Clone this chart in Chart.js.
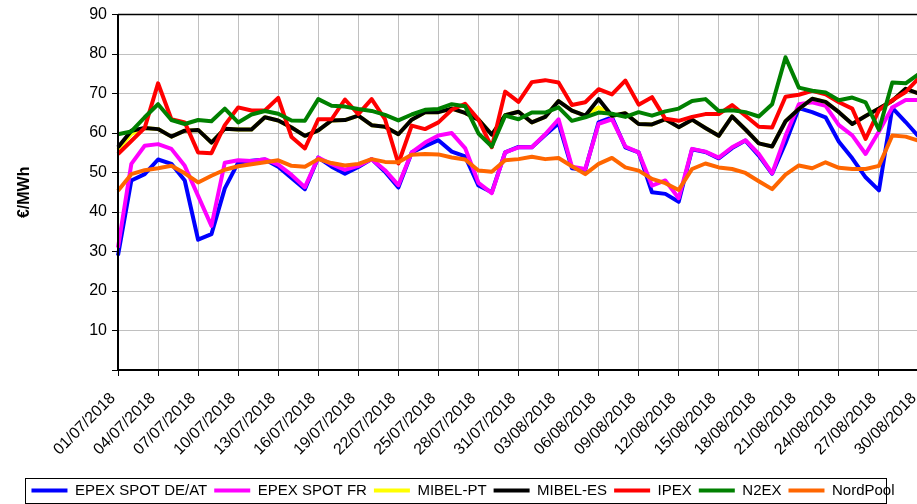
<!DOCTYPE html>
<html>
<head>
<meta charset="utf-8">
<script src="https://cdn.jsdelivr.net/npm/chart.js@4"></script>
<style>
html, body { margin: 0; padding: 0; overflow: hidden; background: #fff; }
#wrap { width: 928px; height: 508px; }
</style>
</head>
<body>
<div id="wrap"><canvas id="myChart" width="928" height="508"></canvas></div>
<script>
var dates = [
	'01/07/2018', '02/07/2018', '03/07/2018', '04/07/2018', '05/07/2018', '06/07/2018', '07/07/2018', '08/07/2018',
	'09/07/2018', '10/07/2018', '11/07/2018', '12/07/2018', '13/07/2018', '14/07/2018', '15/07/2018', '16/07/2018',
	'17/07/2018', '18/07/2018', '19/07/2018', '20/07/2018', '21/07/2018', '22/07/2018', '23/07/2018', '24/07/2018',
	'25/07/2018', '26/07/2018', '27/07/2018', '28/07/2018', '29/07/2018', '30/07/2018', '31/07/2018',
	'01/08/2018', '02/08/2018', '03/08/2018', '04/08/2018', '05/08/2018', '06/08/2018', '07/08/2018', '08/08/2018',
	'09/08/2018', '10/08/2018', '11/08/2018', '12/08/2018', '13/08/2018', '14/08/2018', '15/08/2018', '16/08/2018',
	'17/08/2018', '18/08/2018', '19/08/2018', '20/08/2018', '21/08/2018', '22/08/2018', '23/08/2018', '24/08/2018',
	'25/08/2018', '26/08/2018', '27/08/2018', '28/08/2018', '29/08/2018', '30/08/2018'
];

var epexDe = [29, 48, 49.6, 53.3, 52.2, 48, 33, 34.4, 46, 52.5,
	53, 53.3, 51.5, 48.6, 45.8, 53.8, 51.5, 49.7, 51.4, 53.4,
	50.2, 46.2, 55.1, 56.7, 58.2, 55.3, 54.1, 46.7, 45, 55.1,
	56.5, 56.4, 59.5, 62.5, 51.1, 50.7, 62.7, 64, 56.4, 55.1,
	45, 44.6, 42.6, 55.9, 55.2, 53.6, 56.2, 58.1, 54.3, 49.7,
	57.5, 66.3, 65.3, 64, 57.8, 53.6, 48.8, 45.5, 66.4, 62.8,
	59];
var epexFr = [31, 52.2, 56.8, 57.2, 56, 51.7, 44.1, 36.5, 52.5, 53.1,
	52.9, 53.4, 52, 49.4, 46.3, 53.8, 52.1, 50.7, 51.7, 53.4,
	50.6, 46.8, 55.1, 57.6, 59.4, 60, 56.2, 47.4, 44.8, 55.1,
	56.4, 56.4, 59.7, 63.5, 51.5, 50.9, 62.3, 63.5, 56.6, 55.1,
	46.7, 48, 43.5, 56, 55.3, 53.8, 56.4, 58.2, 54.7, 49.8,
	59.3, 67.3, 67.8, 66.9, 62, 59.4, 54.7, 60.4, 66.5, 68.4,
	68.4];
var mibelPt = [55.8, 59.8, 61.3, 61, 59.1, 60.6, 60.8, 57.6, 61.1, 60.9,
	60.9, 64, 63.2, 61.4, 59.3, 60.7, 63.2, 63.3, 64.4, 62,
	61.6, 59.7, 63.4, 65.3, 65.3, 66.2, 65.1, 63.4, 59.6, 64.5,
	65.4, 62.7, 64.1, 68.1, 65.7, 64.4, 66.5, 64.4, 65, 62.3,
	62.2, 63.5, 61.5, 63.4, 61.3, 59.3, 64.2, 60.9, 57.4, 56.6,
	63, 66.1, 68.7, 67.9, 65.3, 62.3, 64.3, 66.2, 68.2, 71.2,
	70];
var mibelEs = [56.4, 60.6, 61.3, 61, 59.1, 60.6, 60.8, 57.6, 61.1, 60.9,
	60.9, 64, 63.2, 61.4, 59.3, 60.7, 63.2, 63.3, 64.4, 62,
	61.6, 59.7, 63.4, 65.3, 65.3, 66.2, 65.1, 63.4, 59.6, 64.5,
	65.4, 62.7, 64.1, 68.1, 65.7, 64.4, 68.6, 64.4, 65, 62.3,
	62.2, 63.5, 61.5, 63.4, 61.3, 59.3, 64.2, 60.9, 57.4, 56.6,
	63, 66.1, 68.7, 67.9, 65.3, 62.3, 64.3, 66.2, 68.2, 71.2,
	70];
var ipex = [54.7, 58, 61.3, 72.6, 63.5, 62.7, 55.1, 54.9, 62, 66.5,
	65.7, 65.7, 68.9, 59, 56.1, 63.5, 63.5, 68.5, 64.8, 68.6,
	63.5, 52.3, 61.9, 61, 62.7, 65.9, 67.4, 63.4, 56.4, 70.5,
	67.9, 72.9, 73.4, 72.8, 67.1, 67.8, 71.1, 69.8, 73.3, 67.2,
	69.1, 63.6, 63.1, 64.1, 64.8, 64.8, 67.1, 64.4, 61.6, 61.4,
	69.2, 69.7, 70.7, 69.8, 67.8, 66.2, 58.5, 65.8, 68.3, 70.4,
	74];
var n2ex = [59.7, 60.4, 64, 67.3, 63.3, 62.3, 63.3, 63, 66.2, 62.7,
	64.7, 65.6, 64.9, 63.2, 63.1, 68.6, 66.9, 66.7, 66.1, 65.6,
	64.6, 63.2, 64.7, 65.9, 66.1, 67.3, 66.8, 59.9, 56.6, 64.4,
	63.5, 65.2, 65.2, 66.5, 63.1, 64, 65.2, 64.9, 64.1, 65.3,
	64.4, 65.5, 66.2, 68.1, 68.6, 65.6, 65.8, 65.3, 64.2, 67.3,
	79.2, 71.5, 70.7, 70.3, 68.3, 69, 67.8, 60.8, 72.8, 72.6,
	75];
var nordPool = [45.4, 49.6, 50.6, 51.1, 51.7, 49.8, 47.5, 49.2, 50.7, 51.6,
	52.1, 52.6, 53.1, 51.7, 51.5, 53.4, 52.4, 51.8, 52.2, 53.4,
	52.7, 52.6, 54.5, 54.7, 54.6, 53.8, 53.3, 50.5, 50.2, 53.1,
	53.4, 54, 53.4, 53.7, 51.6, 49.6, 52.2, 53.7, 51.3, 50.5,
	48.4, 47.3, 45.6, 50.9, 52.3, 51.3, 50.9, 49.9, 47.8, 45.8,
	49.5, 51.8, 51.1, 52.6, 51.2, 50.9, 50.9, 51.7, 59.4, 59.1,
	58];

Chart.defaults.font.family = "'Liberation Sans', Arial, sans-serif";
Chart.defaults.color = '#000';

function serie(label, data, color, order) {
	return {
		label: label,
		data: data,
		borderColor: color,
		backgroundColor: color,
		borderWidth: 4,
		borderJoinStyle: 'round',
		pointRadius: 0,
		tension: 0,
		fill: false,
		order: order
	};
}

// plot frame on top of the lines + box round the legend
var frame = {
	id: 'frame',
	afterDatasetsDraw: function (chart) {
		var a = chart.chartArea, c = chart.ctx;
		c.save();
		c.strokeStyle = '#000';
		c.lineWidth = 2;
		c.beginPath();
		c.moveTo(a.left, a.top);
		c.lineTo(a.left, a.bottom);
		c.lineTo(a.right, a.bottom);
		c.stroke();
		c.lineWidth = 1.5;
		c.beginPath();
		c.moveTo(a.left, a.top);
		c.lineTo(a.right, a.top);
		c.lineTo(a.right, a.bottom);
		c.stroke();
		c.restore();
	},
	afterDraw: function (chart) {
		var boxes = chart.legend.legendHitBoxes, c = chart.ctx;
		if (!boxes || !boxes.length) return;
		var last = boxes[boxes.length - 1];
		var left = boxes[0].left - 6;
		var right = last.left + last.width - 8;
		var mid = boxes[0].top + boxes[0].height / 2;
		c.save();
		c.strokeStyle = '#000';
		c.lineWidth = 1;
		c.strokeRect(Math.round(left) + 0.5, Math.round(mid - 13) + 0.5, Math.round(right - left), 25);
		c.restore();
	}
};

var ctx = document.getElementById('myChart').getContext('2d');
var myChart = new Chart(ctx, {
	type: 'line',
	data: {
		labels: dates,
		datasets: [
			serie('EPEX SPOT DE/AT', epexDe, '#0000FF', 6),
			serie('EPEX SPOT FR', epexFr, '#FF00FF', 5),
			serie('MIBEL-PT', mibelPt, '#FFFF00', 4),
			serie('MIBEL-ES', mibelEs, '#000000', 3),
			serie('IPEX', ipex, '#FF0000', 2),
			serie('N2EX', n2ex, '#008000', 1),
			serie('NordPool', nordPool, '#FF6600', 0)
		]
	},
	options: {
		responsive: false,
		animation: false,
		devicePixelRatio: 1,
		layout: { padding: { top: 14, left: 7, right: 9, bottom: 0 } },
		plugins: {
			legend: {
				position: 'bottom',
				labels: {
					usePointStyle: true,
					pointStyle: 'line',
					pointStyleWidth: 36,
					padding: 7,
					font: { size: 15 },
					color: '#000',
					sort: function (a, b) { return a.datasetIndex - b.datasetIndex; }
				}
			},
			tooltip: { enabled: false }
		},
		scales: {
			x: {
				offset: false,
				grid: {
					color: function (c) { return c.index % 3 === 0 ? '#C0C0C0' : 'rgba(0,0,0,0)'; },
					tickColor: function (c) { return c.index % 3 === 0 ? '#000' : 'rgba(0,0,0,0)'; },
					tickLength: 6
				},
				border: { display: false },
				ticks: {
					autoSkip: false,
					maxRotation: 45,
					minRotation: 45,
					padding: 13,
					labelOffset: -5,
					font: { size: 16 },
					color: '#000',
					callback: function (v, i) { return i % 3 === 0 ? dates[i] : ''; }
				},
				afterFit: function (s) { s.height = 106; s.paddingRight = 0; s.paddingLeft = 0; }
			},
			y: {
				min: 0,
				max: 90,
				grid: { color: '#C0C0C0', tickColor: '#000', tickLength: 6 },
				border: { display: false },
				ticks: {
					stepSize: 10,
					padding: 5,
					font: { size: 16 },
					color: '#000',
					callback: function (v) { return v === 0 ? '' : v; }
				},
				title: {
					display: true,
					text: '€/MWh',
					font: { size: 16, weight: 'bold' },
					color: '#000',
					padding: { top: 8, bottom: 0 }
				},
				afterFit: function (s) { s.width = 111; }
			}
		}
	},
	plugins: [frame]
});
</script>
</body>
</html>
